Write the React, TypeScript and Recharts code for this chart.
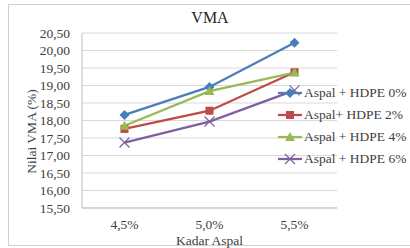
import React from 'react';
import {
  LineChart,
  Line,
  XAxis,
  YAxis,
  CartesianGrid,
  Legend,
} from 'recharts';

// values
const categories = ['4,5%', '5,0%', '5,5%'];
const hdpe0 = [18.16, 18.96, 20.22];
const hdpe2 = [17.76, 18.28, 19.38];
const hdpe4 = [17.85, 18.84, 19.37];
const hdpe6 = [17.37, 17.97, 18.86];
const yTicks = [15.5, 16, 16.5, 17, 17.5, 18, 18.5, 19, 19.5, 20, 20.5];

const seriesNames = [
  'Aspal + HDPE 0%',
  'Aspal+ HDPE 2%',
  'Aspal + HDPE 4%',
  'Aspal + HDPE 6%',
];
const seriesKeys = ['h0', 'h2', 'h4', 'h6'];
const COLORS = ['#4a7ebb', '#be4b48', '#98b954', '#7d60a0'];
const SHAPES = ['diamond', 'square', 'triangle', 'cross'];

const data = categories.map((cat, i) => ({
  cat,
  h0: hdpe0[i],
  h2: hdpe2[i],
  h4: hdpe4[i],
  h6: hdpe6[i],
}));

const FONT = '"Liberation Serif", "DejaVu Serif", serif';
const TEXT = '#404040';

function Marker({ shape, cx, cy, color }: any) {
  if (cx == null || cy == null) return null;
  if (shape === 'diamond') {
    return (
      <polygon
        points={`${cx},${cy - 5} ${cx + 5},${cy} ${cx},${cy + 5} ${cx - 5},${cy}`}
        fill={color}
      />
    );
  }
  if (shape === 'square') {
    return <rect x={cx - 4} y={cy - 4} width={8} height={8} fill={color} />;
  }
  if (shape === 'triangle') {
    return (
      <polygon
        points={`${cx},${cy - 5} ${cx + 5},${cy + 4} ${cx - 5},${cy + 4}`}
        fill={color}
      />
    );
  }
  return (
    <g stroke={color} strokeWidth={1.3}>
      <line x1={cx - 5} y1={cy - 5} x2={cx + 5} y2={cy + 5} />
      <line x1={cx - 5} y1={cy + 5} x2={cx + 5} y2={cy - 5} />
    </g>
  );
}

function makeDot(idx: number) {
  return (props: any) => (
    <Marker
      key={`dot-${idx}-${props.index}`}
      shape={SHAPES[idx]}
      cx={props.cx}
      cy={props.cy}
      color={COLORS[idx]}
    />
  );
}

function LegendBox() {
  return (
    <div style={{ fontFamily: FONT, fontSize: 13.5, color: TEXT }}>
      {seriesNames.map((name, i) => (
        <div
          key={name}
          style={{ display: 'flex', alignItems: 'center', height: 22 }}
        >
          <svg width={26} height={14} style={{ marginRight: 1 }}>
            <line
              x1={1}
              y1={7}
              x2={25}
              y2={7}
              stroke={COLORS[i]}
              strokeWidth={2.25}
            />
            <Marker shape={SHAPES[i]} cx={13} cy={7} color={COLORS[i]} />
          </svg>
          <span style={{ whiteSpace: 'nowrap' }}>{name}</span>
        </div>
      ))}
    </div>
  );
}

export default function App() {
  return (
    <div
      style={{
        position: 'absolute',
        left: 0,
        top: 0,
        width: 410,
        height: 248,
        background: '#fff',
        fontFamily: FONT,
        overflow: 'hidden',
      }}
    >
      <div
        style={{
          position: 'absolute',
          left: 8,
          top: 4,
          width: 420,
          height: 240,
          border: '1.5px solid #cfcfcf',
        }}
      />
      <div
        style={{
          position: 'absolute',
          left: 0,
          width: 420,
          top: 9,
          textAlign: 'center',
          fontSize: 16,
          color: '#262626',
        }}
      >
        VMA
      </div>
      <LineChart
        width={410}
        height={248}
        data={data}
        margin={{ top: 33, right: 73, left: 8, bottom: 10 }}
        style={{ position: 'absolute', left: 0, top: 0 }}
      >
        <CartesianGrid vertical={false} stroke="#d9d9d9" strokeWidth={1} />
        <XAxis
          dataKey="cat"
          padding={{ left: 42.5, right: 42.5 }}
          height={30}
          tickLine={false}
          axisLine={{ stroke: '#bfbfbf' }}
          tick={{ fill: TEXT, fontSize: 13.5 }}
          tickMargin={5}
          label={{
            content: ({ viewBox }: any) => (
              <text
                x={viewBox.x + viewBox.width / 2}
                y={viewBox.y + 37}
                textAnchor="middle"
                fill={TEXT}
                fontSize={13.5}
              >
                Kadar Aspal
              </text>
            ),
          }}
        />
        <YAxis
          width={74}
          domain={[15.5, 20.5]}
          ticks={yTicks}
          interval={0}
          tickFormatter={(v: number) => v.toFixed(2).replace('.', ',')}
          tickLine={false}
          axisLine={{ stroke: '#bfbfbf' }}
          tick={{ fill: TEXT, fontSize: 13.5 }}
          tickSize={6}
          tickMargin={6}
          label={{
            content: ({ viewBox }: any) => {
              const x = viewBox.x + 28;
              const y = viewBox.y + viewBox.height / 2 + 11;
              return (
                <text
                  x={x}
                  y={y}
                  transform={`rotate(-90 ${x} ${y})`}
                  textAnchor="middle"
                  fill={TEXT}
                  fontSize={13.5}
                >
                  Nilai VMA (%)
                </text>
              );
            },
          }}
        />
        <Legend
          layout="vertical"
          align="center"
          verticalAlign="middle"
          content={() => <LegendBox />}
          wrapperStyle={{ left: 277, top: 82, width: 133, height: 90 }}
        />
        {seriesKeys.map((key, i) => (
          <Line
            key={key}
            type="linear"
            dataKey={key}
            name={seriesNames[i]}
            stroke={COLORS[i]}
            strokeWidth={2.25}
            dot={makeDot(i)}
            activeDot={false}
            isAnimationActive={false}
          />
        ))}
      </LineChart>
    </div>
  );
}
